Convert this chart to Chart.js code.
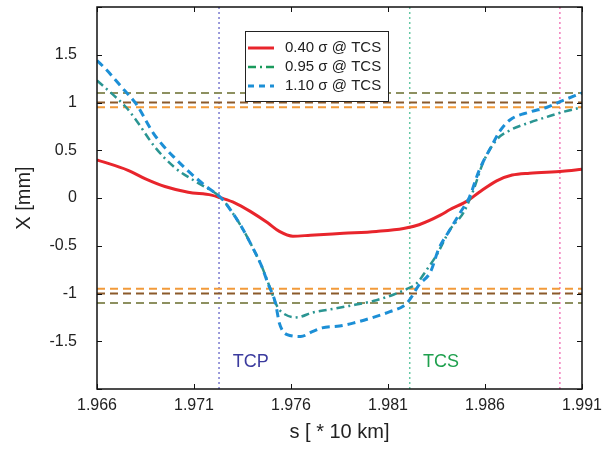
<!DOCTYPE html>
<html><head><meta charset="utf-8">
<script src="https://cdn.jsdelivr.net/npm/chart.js@4/dist/chart.umd.min.js"></script>
<style>html,body{margin:0;padding:0;background:#fff}</style>
</head><body>
<canvas id="c" width="610" height="449"></canvas>
<script>
// ---- data ----
const redS  = [1.9660,1.9676,1.9685,1.9695,1.9707,1.9719,1.9724,1.9731,1.9739,1.9748,1.9754,1.9761,1.9770,1.9787,1.9804,1.9818,1.9826,1.9837,1.9842,1.9851,1.9857,1.9866,1.9874,1.9883,1.9900,1.9910];
const redX  = [0.40,0.29,0.20,0.12,0.06,0.03,0.00,-0.05,-0.14,-0.26,-0.35,-0.40,-0.39,-0.37,-0.35,-0.32,-0.28,-0.18,-0.12,-0.03,0.06,0.18,0.24,0.26,0.28,0.30];

const tealS = [1.9660,1.9670,1.9675,1.9680,1.9690,1.9700,1.9711,1.9724,1.9730,1.9735,1.9740,1.9745,1.9749,1.9753,1.9757,1.9763,1.9771,1.9779,1.9790,1.9804,1.9813,1.9820,1.9825,1.9830,1.9835,1.9842,1.9849,1.9854,1.9859,1.9866,1.9873,1.9883,1.9892,1.9900,1.9910];
const tealX = [1.23,1.05,0.95,0.82,0.53,0.32,0.17,0.00,-0.16,-0.32,-0.51,-0.72,-0.93,-1.14,-1.22,-1.25,-1.20,-1.17,-1.13,-1.07,-1.01,-0.95,-0.89,-0.75,-0.60,-0.33,-0.15,0.08,0.37,0.61,0.71,0.79,0.85,0.90,0.95];

const blueS = [1.9660,1.9665,1.9674,1.9680,1.9689,1.9694,1.9700,1.9705,1.9711,1.9717,1.9724,1.9730,1.9735,1.9740,1.9745,1.9748,1.9752,1.9754,1.9758,1.9765,1.9771,1.9776,1.9785,1.9792,1.9804,1.9811,1.9818,1.9821,1.9826,1.9832,1.9836,1.9842,1.9847,1.9852,1.9857,1.9863,1.9868,1.9873,1.9883,1.9892,1.9900,1.9910];
const blueX = [1.44,1.34,1.13,0.99,0.68,0.55,0.42,0.32,0.21,0.11,0.00,-0.16,-0.32,-0.51,-0.72,-0.89,-1.10,-1.31,-1.43,-1.45,-1.40,-1.36,-1.34,-1.31,-1.24,-1.19,-1.13,-1.07,-0.91,-0.77,-0.54,-0.33,-0.16,0.01,0.29,0.53,0.71,0.82,0.90,0.95,1.02,1.10];

const legendLabels = ['0.40 σ @ TCS','0.95 σ @ TCS','1.10 σ @ TCS'];

const hLineValues = [1.1, 1.0, 0.95, -0.95, -1.0, -1.1];
const hLineColors = ['#8d9060','#8b5a2b','#f29a3a','#f29a3a','#8b5a2b','#8d9060'];

const vLineS = [1.97229, 1.98212, 1.98986];
const vLineColors = ['#7a7ad0','#66c8a4','#f27cbc'];

const markerLabels = ['TCP','TCS'];
const markerLabelS = [1.97300, 1.98280];
const markerLabelX = -1.77;
const markerLabelColors = ['#3b3b9e','#1fa04e'];

const xTicks = [1.966, 1.971, 1.976, 1.981, 1.986, 1.991];
const yTicks = [-2, -1.5, -1, -0.5, 0, 0.5, 1, 1.5, 2];
const yTickLabels = ['', '-1.5', '-1', '-0.5', '0', '0.5', '1', '1.5', ''];

const xMin = 1.966, xMax = 1.991, yMin = -2, yMax = 2;

// ---- build ----
const pts = (s, v) => s.map((x, i) => ({x, y: v[i]}));
const datasets = [
  {label: legendLabels[2], data: pts(blueS, blueX), borderColor: '#1c8fd6', borderWidth: 3, borderDash: [8, 5], cubicInterpolationMode: 'monotone'},
  {label: legendLabels[1], data: pts(tealS, tealX), borderColor: '#2a9592', borderWidth: 2.5, borderDash: [8, 4, 2, 4], cubicInterpolationMode: 'monotone'},
  {label: legendLabels[0], data: pts(redS, redX), borderColor: '#e8252c', borderWidth: 3, cubicInterpolationMode: 'monotone'},
];
hLineValues.forEach((v, i) => datasets.push({label: 'h' + i, data: [{x: xMin, y: v}, {x: xMax, y: v}], borderColor: hLineColors[i], borderWidth: 2, borderDash: [8, 5]}));
vLineS.forEach((s, i) => datasets.push({label: 'v' + i, data: [{x: s, y: yMin}, {x: s, y: yMax}], borderColor: vLineColors[i], borderWidth: 1.5, borderDash: [2, 3]}));
datasets.forEach(d => { d.pointRadius = 0; d.fill = false; });

const FONT = "'Liberation Sans', Arial, Helvetica, sans-serif";

const decor = {
  id: 'decor',
  afterDatasetsDraw(chart) {
    const {ctx, chartArea: a, scales: {x, y}} = chart;
    ctx.save();
    ctx.font = '18px ' + FONT;
    ctx.textBaseline = 'alphabetic';
    ctx.textAlign = 'left';
    markerLabels.forEach((t, i) => {
      ctx.fillStyle = markerLabelColors[i];
      ctx.fillText(t, x.getPixelForValue(markerLabelS[i]), y.getPixelForValue(markerLabelX));
    });
    ctx.strokeStyle = '#111';
    ctx.lineWidth = 1;
    ctx.beginPath();
    xTicks.forEach(v => {
      const px = Math.round(x.getPixelForValue(v)) + 0.5;
      ctx.moveTo(px, a.bottom); ctx.lineTo(px, a.bottom - 5);
      ctx.moveTo(px, a.top); ctx.lineTo(px, a.top + 5);
    });
    yTicks.forEach(v => {
      const py = Math.round(y.getPixelForValue(v)) + 0.5;
      ctx.moveTo(a.left, py); ctx.lineTo(a.left + 5, py);
      ctx.moveTo(a.right, py); ctx.lineTo(a.right - 5, py);
    });
    ctx.stroke();
    ctx.lineWidth = 1.5;
    ctx.strokeStyle = '#111';
    ctx.strokeRect(a.left, a.top, a.right - a.left, a.bottom - a.top);
    // legend
    const lx = 245, ly = 31, lw = 143, lh = 70;
    ctx.fillStyle = '#fff';
    ctx.fillRect(lx, ly, lw, lh);
    ctx.lineWidth = 1;
    ctx.strokeStyle = '#222';
    ctx.strokeRect(lx + 0.5, ly + 0.5, lw, lh);
    const rows = [48, 67, 86];
    const samples = [
      {c: '#e8252c', w: 3, d: []},
      {c: '#1a9a5c', w: 2.5, d: [8, 4, 2, 4]},
      {c: '#1c8fd6', w: 3, d: [6, 5]},
    ];
    ctx.font = '15px ' + FONT;
    ctx.textBaseline = 'middle';
    rows.forEach((ry, i) => {
      ctx.beginPath();
      ctx.setLineDash(samples[i].d);
      ctx.strokeStyle = samples[i].c;
      ctx.lineWidth = samples[i].w;
      ctx.moveTo(248, ry); ctx.lineTo(274, ry);
      ctx.stroke();
      ctx.setLineDash([]);
      ctx.fillStyle = '#222';
      ctx.fillText(legendLabels[i], 285, ry);
    });
    ctx.restore();
  }
};

new Chart(document.getElementById('c'), {
  type: 'line',
  data: {datasets},
  plugins: [decor],
  options: {
    responsive: false,
    devicePixelRatio: 1,
    animation: false,
    layout: {padding: {top: 7, right: 28, left: 0, bottom: 0}},
    plugins: {legend: {display: false}, tooltip: {enabled: false}},
    scales: {
      x: {
        type: 'linear', min: xMin, max: xMax,
        grid: {display: false, drawTicks: false},
        border: {display: false},
        afterBuildTicks: s => { s.ticks = xTicks.map(v => ({value: v})); },
        afterFit: s => { s.height = 60; s.paddingLeft = 0; s.paddingRight = 0; },
        ticks: {color: '#222', font: {family: FONT, size: 16}, padding: 7, maxRotation: 0,
          callback: v => v.toFixed(3)},
        title: {display: true, text: 's [ * 10 km]', color: '#222', font: {family: FONT, size: 20}, padding: {top: 0, bottom: 5}}
      },
      y: {
        type: 'linear', min: yMin, max: yMax,
        grid: {display: false, drawTicks: false},
        border: {display: false},
        afterBuildTicks: s => { s.ticks = yTicks.map(v => ({value: v})); },
        afterFit: s => { s.width = 97; s.paddingTop = 0; s.paddingBottom = 0; },
        ticks: {color: '#222', font: {family: FONT, size: 16}, padding: 20,
          callback: (v, i) => yTickLabels[yTicks.indexOf(v)]},
        title: {display: true, text: 'X [mm]', color: '#222', font: {family: FONT, size: 20}, padding: {top: 12, bottom: 0}}
      }
    }
  }
});
</script>
</body></html>
